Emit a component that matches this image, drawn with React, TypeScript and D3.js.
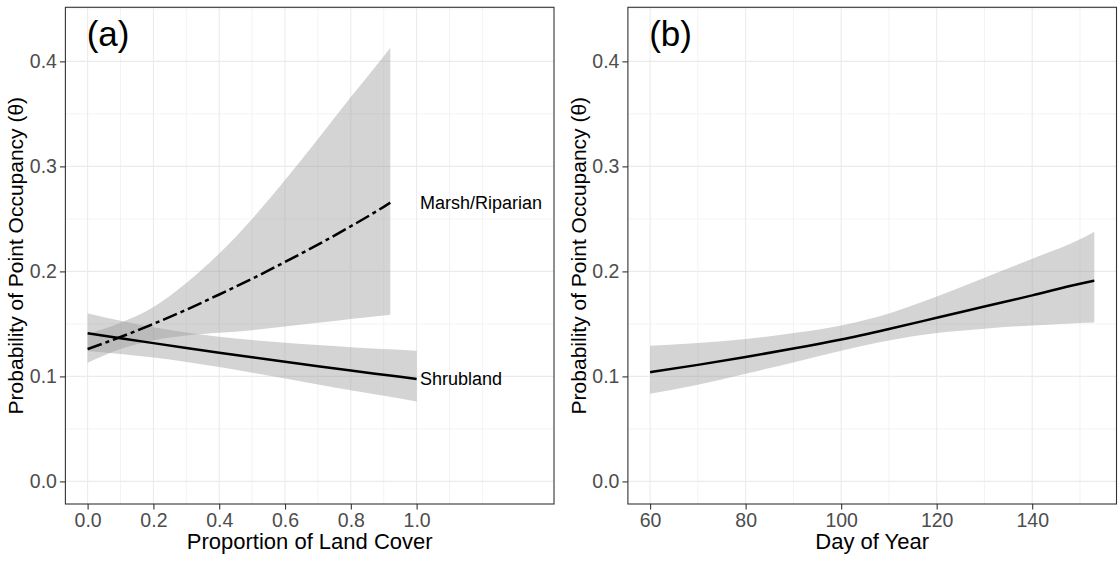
import React, { useEffect, useRef } from 'react';
import * as d3 from 'd3';

// Panel (a): proportion of land cover
const shrubCover = [0, 0.1, 0.2, 0.3, 0.4, 0.5, 0.6, 0.7, 0.8, 0.9, 1.0];
const shrubMean = [0.1412, 0.1364, 0.1317, 0.1271, 0.1226, 0.1182, 0.1139, 0.1097, 0.1056, 0.1016, 0.0976];
const shrubUpper = [0.1602, 0.153, 0.1468, 0.1418, 0.1378, 0.1346, 0.132, 0.1298, 0.1278, 0.126, 0.1245];
const shrubLower = [0.1242, 0.1214, 0.118, 0.1138, 0.1089, 0.1036, 0.098, 0.0924, 0.0869, 0.0815, 0.0762];

const marshCover = [0, 0.1, 0.2, 0.3, 0.4, 0.5, 0.6, 0.7, 0.8, 0.9, 0.92];
const marshMean = [0.126, 0.1375, 0.15, 0.1635, 0.178, 0.193, 0.209, 0.2255, 0.243, 0.2615, 0.2655];
const marshUpper = [0.1405, 0.151, 0.166, 0.189, 0.217, 0.25, 0.287, 0.326, 0.366, 0.405, 0.413];
const marshLower = [0.113, 0.126, 0.1345, 0.139, 0.1415, 0.144, 0.1476, 0.151, 0.1547, 0.158, 0.1588];

// Panel (b): day of year
const days = [60, 70, 80, 90, 100, 110, 120, 130, 140, 150, 153];
const dayMean = [0.104, 0.111, 0.1185, 0.1265, 0.1352, 0.1452, 0.1558, 0.1665, 0.1772, 0.1882, 0.1912];
const dayUpper = [0.1292, 0.1318, 0.1356, 0.1413, 0.1485, 0.16, 0.176, 0.194, 0.212, 0.2305, 0.2378];
const dayLower = [0.0835, 0.0921, 0.1026, 0.1133, 0.1245, 0.1343, 0.1413, 0.1455, 0.1485, 0.1508, 0.1514];

// Ticks and grid
const yTicks = [0, 0.1, 0.2, 0.3, 0.4];
const yMinor = [0.05, 0.15, 0.25, 0.35, 0.45];
const coverTicks = [0, 0.2, 0.4, 0.6, 0.8, 1.0];
const coverMinor = [0.1, 0.3, 0.5, 0.7, 0.9, 1.1, 1.2];
const dayTicks = [60, 80, 100, 120, 140];
const dayMinor = [70, 90, 110, 130, 150];

const yLabel = 'Probability of Point Occupancy (θ)';
const FONT = '"Liberation Sans", Arial, Helvetica, sans-serif';

const W = 1120;
const H = 561;
const plot = { left: 65.4, right: 554, top: 7.3, bottom: 504 };

type Series = { x: number[]; mean: number[]; upper: number[]; lower: number[]; dash?: string };
type Label = { text: string; x: number; y: number };

const drawPanel = (
  svg: d3.Selection<SVGSVGElement, unknown, null, undefined>,
  offset: number,
  xDomain: [number, number],
  xTicks: number[],
  xMinor: number[],
  xFormat: (d: number) => string,
  xTitle: string,
  tag: string,
  series: Series[],
  labels: Label[]
) => {
  const g = svg.append('g').attr('transform', `translate(${offset},0)`);

  const x = d3.scaleLinear().domain(xDomain).range([plot.left, plot.right]);
  const y = d3.scaleLinear().domain([-0.0215, 0.4515]).range([plot.bottom, plot.top]);

  // Grid lines (minor first, then major)
  const grid = g.append('g');
  xMinor.forEach(v => {
    grid.append('line')
      .attr('x1', x(v)).attr('x2', x(v))
      .attr('y1', plot.top).attr('y2', plot.bottom)
      .attr('stroke', '#ebebeb').attr('stroke-width', 0.6);
  });
  yMinor.forEach(v => {
    grid.append('line')
      .attr('x1', plot.left).attr('x2', plot.right)
      .attr('y1', y(v)).attr('y2', y(v))
      .attr('stroke', '#ebebeb').attr('stroke-width', 0.6);
  });
  xTicks.forEach(v => {
    grid.append('line')
      .attr('x1', x(v)).attr('x2', x(v))
      .attr('y1', plot.top).attr('y2', plot.bottom)
      .attr('stroke', '#ebebeb').attr('stroke-width', 1.1);
  });
  yTicks.forEach(v => {
    grid.append('line')
      .attr('x1', plot.left).attr('x2', plot.right)
      .attr('y1', y(v)).attr('y2', y(v))
      .attr('stroke', '#ebebeb').attr('stroke-width', 1.1);
  });

  // Ribbons
  series.forEach(s => {
    const pts = s.x.map((v, i) => ({ x: v, lo: s.lower[i], hi: s.upper[i] }));
    const area = d3.area<{ x: number; lo: number; hi: number }>()
      .x(d => x(d.x))
      .y0(d => y(d.lo))
      .y1(d => y(d.hi))
      .curve(d3.curveMonotoneX);
    g.append('path')
      .attr('d', area(pts) as string)
      .attr('fill', '#999999')
      .attr('fill-opacity', 0.42);
  });

  // Lines
  series.forEach(s => {
    const pts = s.x.map((v, i) => ({ x: v, m: s.mean[i] }));
    const line = d3.line<{ x: number; m: number }>()
      .x(d => x(d.x))
      .y(d => y(d.m))
      .curve(d3.curveMonotoneX);
    g.append('path')
      .attr('d', line(pts) as string)
      .attr('fill', 'none')
      .attr('stroke', '#000')
      .attr('stroke-width', 2.5)
      .attr('stroke-dasharray', s.dash || null);
  });

  // Panel border
  g.append('rect')
    .attr('x', plot.left).attr('y', plot.top)
    .attr('width', plot.right - plot.left)
    .attr('height', plot.bottom - plot.top)
    .attr('fill', 'none')
    .attr('stroke', '#333')
    .attr('stroke-width', 1.1);

  // Axes
  const xAxis = g.append('g')
    .attr('transform', `translate(0,${plot.bottom})`)
    .call(d3.axisBottom(x).tickValues(xTicks).tickSize(5.5).tickPadding(3.5).tickFormat(d => xFormat(d as number)));
  const yAxis = g.append('g')
    .attr('transform', `translate(${plot.left},0)`)
    .call(d3.axisLeft(y).tickValues(yTicks).tickSize(5.5).tickPadding(3).tickFormat(d3.format('.1f')));
  [xAxis, yAxis].forEach(a => {
    a.select('.domain').remove();
    a.selectAll('line').attr('stroke', '#333').attr('stroke-width', 1.1);
    a.selectAll('text')
      .attr('fill', '#4d4d4d')
      .style('font-family', FONT)
      .style('font-size', '19.5px');
  });

  // Axis titles
  g.append('text')
    .attr('x', (plot.left + plot.right) / 2)
    .attr('y', 549)
    .attr('text-anchor', 'middle')
    .style('font-family', FONT)
    .style('font-size', '22px')
    .text(xTitle);

  g.append('text')
    .attr('transform', `translate(23,${(plot.top + plot.bottom) / 2}) rotate(-90)`)
    .attr('text-anchor', 'middle')
    .style('font-family', FONT)
    .style('font-size', '21px')
    .text(yLabel);

  // Panel tag
  g.append('text')
    .attr('x', x(xDomain[0] + (xDomain[1] - xDomain[0]) * 0.0455) - 1)
    .attr('y', y(0.43) + 16)
    .style('font-family', FONT)
    .style('font-size', '35px')
    .text(tag);

  // Line labels
  labels.forEach(l => {
    g.append('text')
      .attr('x', x(l.x))
      .attr('y', y(l.y))
      .attr('dy', '0.35em')
      .style('font-family', FONT)
      .style('font-size', '18px')
      .text(l.text);
  });
};

const App = () => {
  const ref = useRef<SVGSVGElement>(null);

  useEffect(() => {
    const svg = d3.select(ref.current as SVGSVGElement);
    svg.selectAll('*').remove();

    drawPanel(
      svg, 0, [-0.0675, 1.4175], coverTicks, coverMinor, d3.format('.1f'),
      'Proportion of Land Cover', '(a)',
      [
        { x: shrubCover, mean: shrubMean, upper: shrubUpper, lower: shrubLower },
        { x: marshCover, mean: marshMean, upper: marshUpper, lower: marshLower, dash: '15 4 4 4' },
      ],
      [
        { text: 'Marsh/Riparian', x: 1.01, y: marshMean[marshMean.length - 1] },
        { text: 'Shrubland', x: 1.01, y: shrubMean[shrubMean.length - 1] },
      ]
    );

    drawPanel(
      svg, 562.5, [55.35, 157.65], dayTicks, dayMinor, d => String(d),
      'Day of Year', '(b)',
      [{ x: days, mean: dayMean, upper: dayUpper, lower: dayLower }],
      []
    );
  }, []);

  return (
    <div style={{ position: 'absolute', left: 0, top: 0 }}>
      <svg ref={ref} width={W} height={H} style={{ display: 'block', background: '#fff' }} />
    </div>
  );
};

export default App;
